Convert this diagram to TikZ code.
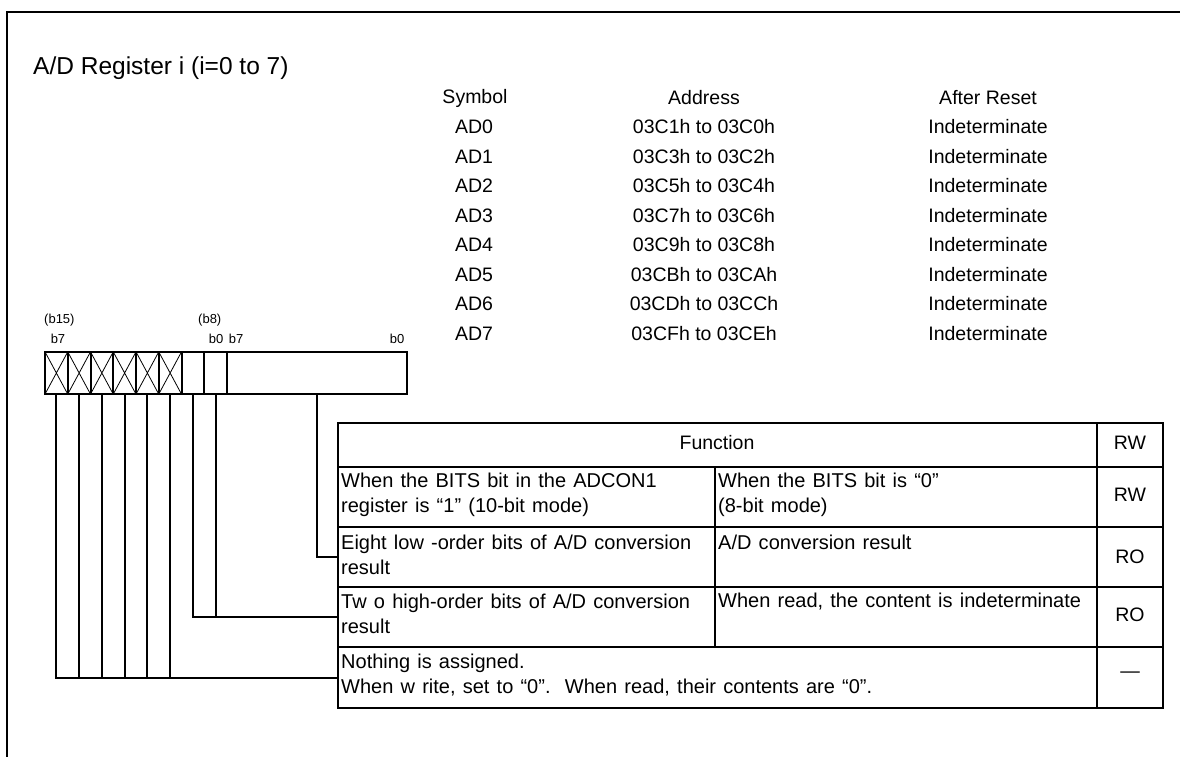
\documentclass[tikz,border=0pt]{standalone}
\usepackage{fontspec}
\setmainfont{Liberation Sans}
\usetikzlibrary{positioning}

\newcommand\cellfont{\fontsize{20}{25}\selectfont\spaceskip=7.2pt\relax}

\tikzset{
 bitcell/.style = {draw, line width=2pt, minimum width=22.75, minimum height=42.3, inner sep=0, outer sep=0},
 wire/.style = {line width=2pt},
 grid/.style = {line width=2.2pt},
 bitlbl/.style = {font=\fontsize{13}{15}\selectfont, inner sep=0},
 cell/.style = {anchor=west, align=left, inner sep=0, font=\cellfont}
}

\begin{document}
\begin{tikzpicture}[x=1pt, y=-1pt, font=\fontsize{19.5}{23}\selectfont]
 \useasboundingbox (0,0) rectangle (1180,757);
 \draw[line width=2.5pt] (7,757) -- (7,12) -- (1180,12);
 \node[anchor=west, inner sep=0, font=\fontsize{24.5}{28}\selectfont] (title) at (33,68) {A/D Register i (i=0 to 7)};

 % symbol / address / reset list
 \node (hsym) at (475,98) {Symbol};
 \node (hadr) at (704,98) {Address};
 \node (hrst) at (988,98) {After Reset};
 \foreach \n/\hi/\lo in {0/1/0, 1/3/2, 2/5/4, 3/7/6, 4/9/8, 5/B/A, 6/D/C, 7/F/E}{
  \node (sym\n) at (474,{127+29.5*\n}) {AD\n};
  \node (adr\n) at (704,{127+29.5*\n}) {03C\hi h to 03C\lo h};
  \node (rst\n) at (988,{127+29.5*\n}) {Indeterminate};
 }

 % bit labels
 \node[bitlbl, anchor=west] (b15) at (44,320) {(b15)};
 \node[bitlbl] (hb7) at (58,339) {b7};
 \node[bitlbl, anchor=west] (b8) at (198,320) {(b8)};
 \node[bitlbl] (hb0) at (216,339) {b0};
 \node[bitlbl] (lb7) at (236,339) {b7};
 \node[bitlbl] (lb0) at (397,339) {b0};

 % register
 \foreach \i in {1,...,8}
  \node[bitcell] (c\i) at ({45+22.75*(\i-0.5)},373) {};
 \foreach \i in {1,...,6}
  \draw[line width=0.8pt] (c\i.north west) -- (c\i.south east) (c\i.north east) -- (c\i.south west);
 \node[bitcell, minimum width=180, anchor=west] (lo) at (c8.east) {};

 % table
 \draw[grid] (338,423) rectangle (1163,708);
 \draw[grid] (338,467) -- (1163,467);
 \draw[grid] (338,527) -- (1163,527);
 \draw[grid] (338,587) -- (1163,587);
 \draw[grid] (338,647) -- (1163,647);
 \draw[grid] (1097,423) -- (1097,708);
 \draw[grid] (715,467) -- (715,647);
 \coordinate (row3) at (338,557);
 \coordinate (row4) at (338,617);
 \coordinate (row5) at (338,678);

 \node (fn) at (717,443) {Function};
 \node (rw1) at (1130,443) {RW};
 \node[cell] (t2a) at (341,495) {When the BITS bit in the ADCON1\\register is “1” (10-bit mode)};
 \node[cell] (t2b) at (718,495) {When the BITS bit is “0”\\(8-bit mode)};
 \node (rw2) at (1130,495) {RW};
 \node[cell] (t3a) at (341,555) {Eight low -order bits of A/D conversion\\result};
 \node[cell] (t3b) at (718,542) {A/D conversion result};
 \node (rw3) at (1130,557) {RO};
 \node[cell] (t4a) at (341,614) {Tw o high-order bits of A/D conversion\\result};
 \node[cell] (t4b) at (718,602) {When read, the content is indeterminate};
 \node (rw4) at (1130,615) {RO};
 \node[cell] (t5a) at (341,675) {Nothing is assigned.\\When w rite, set to “0”.\ \ When read, their contents are “0”.};
 \node (rw5) at (1130,675) {—};

 % connectors
 \foreach \i in {1,...,6}
  \draw[wire] (c\i.south) |- (row5);
 \draw[wire] (c7.south) |- (row4);
 \draw[wire] (c8.south) |- (row4);
 \draw[wire] (lo.south) |- (row3);
\end{tikzpicture}
\end{document}
